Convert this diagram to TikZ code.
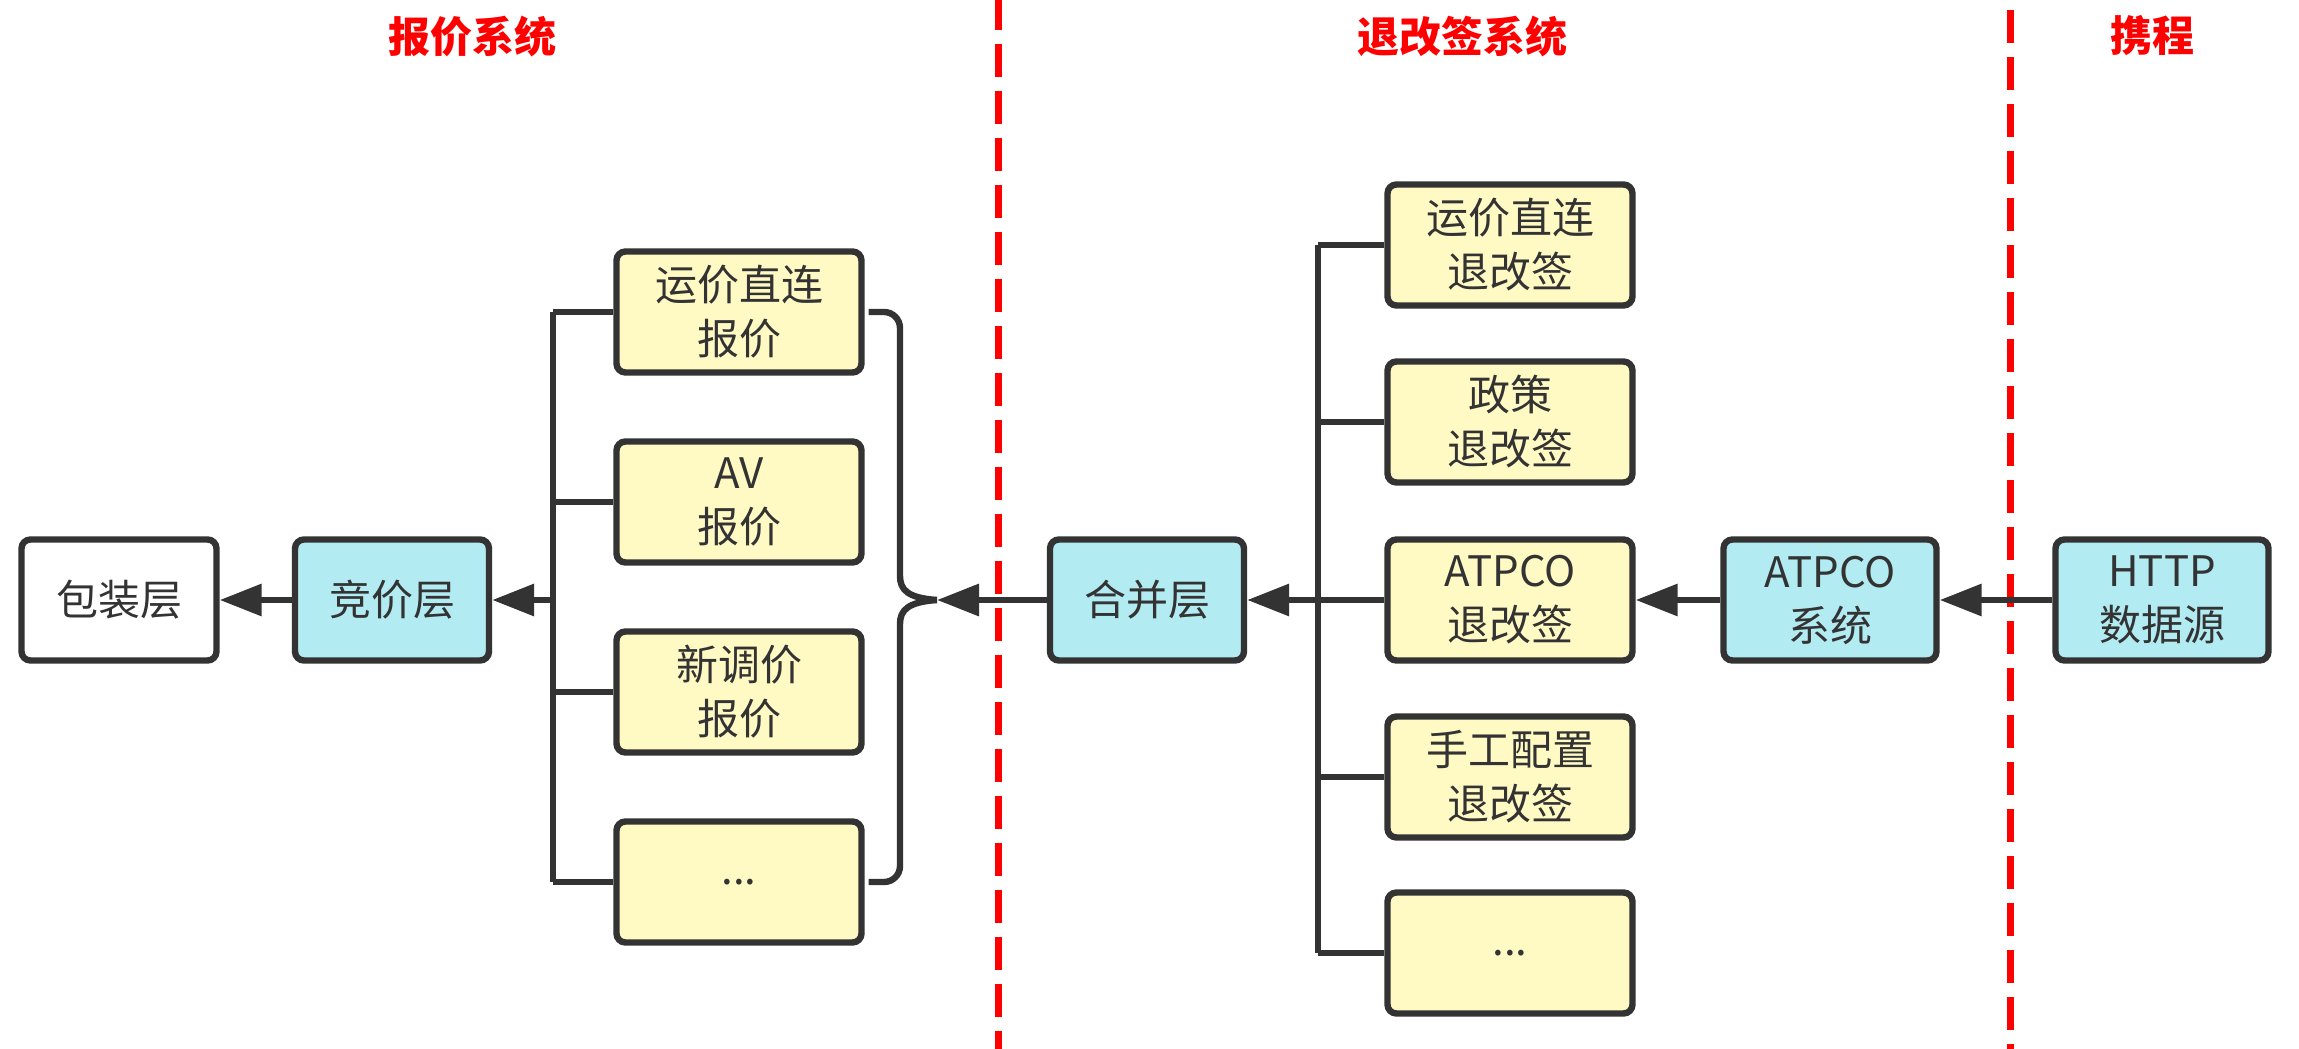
\documentclass[tikz,border=0pt]{standalone}
\usepackage{fontspec}
\setmainfont{Noto Sans CJK SC}
\usetikzlibrary{arrows.meta}
\definecolor{linec}{HTML}{333333}
\definecolor{txtc}{HTML}{333333}
\definecolor{bluec}{HTML}{B2EBF2}
\definecolor{yelc}{HTML}{FFF9C4}
\begin{document}
\begin{tikzpicture}[x=0.5pt,y=-0.5pt,
  box/.style={draw=linec, line width=3.2pt, rounded corners=4.5pt, minimum height=60.5pt, align=center,
    font=\fontsize{21}{27}\selectfont, text=txtc, inner sep=0pt},
  bluebox/.style={box, fill=bluec, minimum width=97pt},
  widebox/.style={box, fill=bluec, minimum width=106.5pt},
  whitebox/.style={box, fill=white, minimum width=97.5pt},
  yelbox/.style={box, fill=yelc, minimum width=122.5pt},
  conn/.style={draw=linec, line width=3.2pt},
  arr/.style={conn, -{Triangle[length=21pt,width=15.5pt]}},
  title/.style={text=red, font=\fontsize{21}{27}\selectfont\bfseries},
  redline/.style={draw=red, line width=3.5pt, dash pattern=on 16.5pt off 7pt}
]
\useasboundingbox (0,0) rectangle (2299,1049);

% separators
\coordinate (sep1t) at (998,-3);
\coordinate (sep1b) at (998,1049);
\coordinate (sep2t) at (2010,10);
\coordinate (sep2b) at (2010,1049);
\draw[redline] (sep1t) -- (sep1b);
\draw[redline] (sep2t) -- (sep2b);

% titles
\node[title] (t1) at (472,36) {报价系统};
\node[title] (t2) at (1462,36) {退改签系统};
\node[title] (t3) at (2152,36) {携程};

% nodes
\node[whitebox] (wrap) at (119,600) {包装层};
\node[bluebox] (bid) at (392,600) {竞价层};
\node[yelbox] (lb1) at (739,312) {运价直连\\报价};
\node[yelbox] (lb2) at (739,502) {AV\\报价};
\node[yelbox] (lb3) at (739,692) {新调价\\报价};
\node[yelbox] (lb4) at (739,882) {...};
\node[bluebox] (merge) at (1147,600) {合并层};
\node[yelbox] (rb1) at (1510,245) {运价直连\\退改签};
\node[yelbox] (rb2) at (1510,422) {政策\\退改签};
\node[yelbox] (rb3) at (1510,600) {ATPCO\\退改签};
\node[yelbox] (rb4) at (1510,777) {手工配置\\退改签};
\node[yelbox] (rb5) at (1510,953) {...};
\node[widebox] (atsys) at (1830,600) {ATPCO\\系统};
\node[widebox] (http) at (2162,600) {HTTP\\数据源};

% left bracket
\coordinate (lbtop) at (553,312);
\coordinate (lbbot) at (553,882);
\draw[conn] (lbtop) -- (lbbot);
\foreach \i in {1,...,4} \draw[conn] (lb\i.west) -- (lb\i.west -| lbtop);
\draw[arr] (lbtop |- bid) -- (bid.east);
\draw[arr] (bid.west) -- (wrap.east);

% brace
\coordinate (btip) at (937,600);
\draw[conn, rounded corners=8pt] ([xshift=2pt]lb1.east) -- (900,312) -- (900,560)
  .. controls (900,590) and (908,598) .. (btip);
\draw[conn, rounded corners=8pt] ([xshift=2pt]lb4.east) -- (900,882) -- (900,640)
  .. controls (900,610) and (908,602) .. (btip);
\draw[arr] (merge.west) -- (btip);

% right bracket
\coordinate (rbtop) at (1318,245);
\coordinate (rbbot) at (1318,953);
\draw[conn] (rbtop) -- (rbbot);
\foreach \i in {1,...,5} \draw[conn] (rb\i.west) -- (rb\i.west -| rbtop);
\draw[arr] (rbtop |- merge) -- (merge.east);
\draw[arr] (atsys.west) -- (rb3.east);
\draw[arr] (http.west) -- (atsys.east);
\end{tikzpicture}
\end{document}
